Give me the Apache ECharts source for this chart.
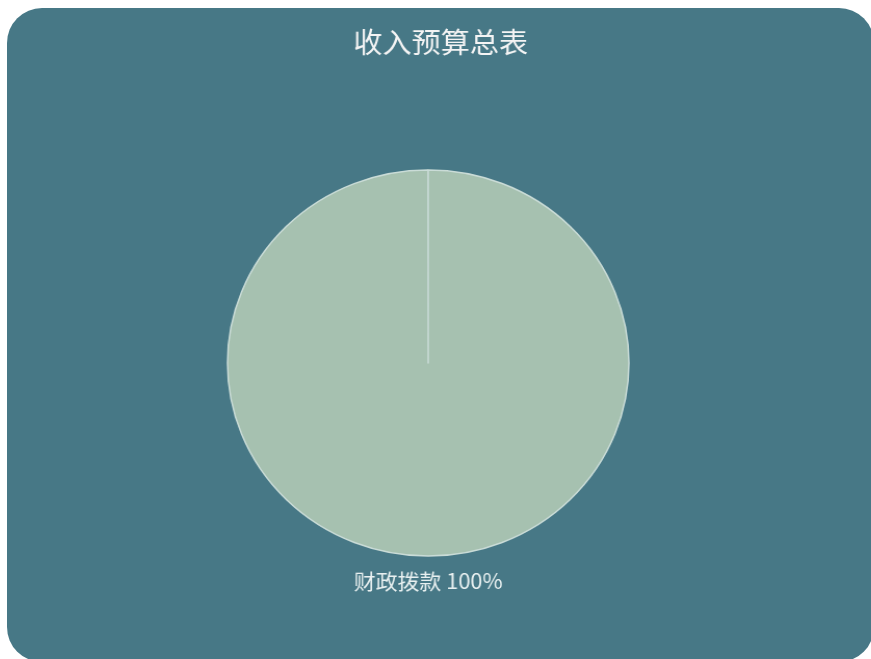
<!DOCTYPE html>
<html>
<head>
<meta charset="utf-8">
<script src="https://cdn.jsdelivr.net/npm/echarts@6/dist/echarts.min.js"></script>
<style>
  html, body { margin: 0; padding: 0; background: #ffffff; width: 871px; height: 659px; overflow: hidden; }
  #box { position: absolute; left: 7px; top: 8px; width: 867px; height: 654px; border-radius: 35px; background: #477886; overflow: hidden; }
  #chart { position: absolute; left: 0; top: 0; width: 834px; height: 654px; transform: scaleX(1.04); transform-origin: 0 0; }
</style>
</head>
<body>
<div id="box"><div id="chart"></div></div>
<script>
const titleText = '收入预算总表';
const categories = ['财政拨款'];
const values = [100];

const chart = echarts.init(document.getElementById('chart'), null, { renderer: 'canvas' });
chart.setOption({
  backgroundColor: 'transparent',
  title: {
    text: titleText,
    left: 'center',
    top: 15,
    padding: [5, 0, 5, 12],
    textStyle: { color: '#f4f4f4', fontSize: 28, fontWeight: 'normal', fontFamily: 'Noto Sans CJK SC' }
  },
  series: [{
    type: 'pie',
    center: [405, 355],
    radius: 193,
    startAngle: 90,
    endAngle: -269.95,
    clockwise: true,
    data: categories.map((c, i) => ({ name: c, value: values[i] })),
    itemStyle: { color: '#a6c1b0', borderColor: '#cadcd7', borderWidth: 1.5 },
    label: {
      show: true,
      position: 'outside',
      formatter: '{b} {d}%',
      color: '#e8f0f0',
      fontSize: 21,
      fontFamily: 'Noto Sans CJK SC'
    },
    labelLine: { show: false, length: 25, length2: 0 },
    labelLayout: function () { return { align: 'center', dx: -5 }; },
    emphasis: { disabled: true },
    animation: false
  }]
});
</script>
</body>
</html>
